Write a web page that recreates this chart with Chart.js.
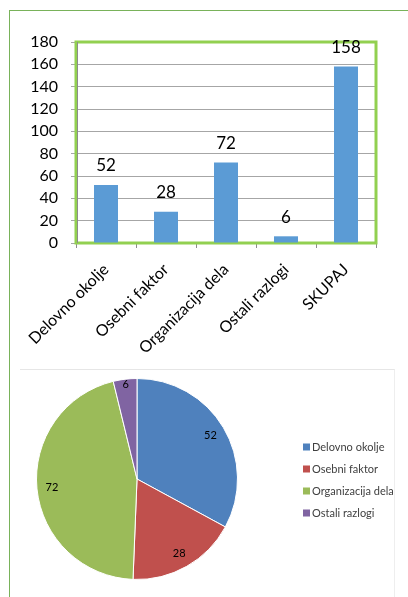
<!DOCTYPE html>
<html>
<head>
<meta charset="utf-8">
<script src="https://cdn.jsdelivr.net/npm/chart.js@4.4.1/dist/chart.umd.min.js"></script>
<style>
  html, body { margin: 0; padding: 0; background: #fff; }
  body { width: 408px; height: 597px; position: relative; overflow: hidden; }
  #outer { position: absolute; left: 9px; top: 10px; width: 420px; height: 600px;
           border-left: 1px solid #79b25a; border-top: 1px solid #79b25a; }
  #pieFrame { position: absolute; left: 20px; top: 369px; width: 374px; height: 240px;
              border-top: 1px solid #e6e6e6; border-right: 1px solid #eeeeee; }
  #barWrap { position: absolute; left: 0; top: 0; width: 408px; height: 370px; }
  #pieWrap { position: absolute; left: 20px; top: 368px; width: 388px; height: 229px; }
</style>
</head>
<body>
<div id="outer"></div>
<div id="pieFrame"></div>
<div id="barWrap"><canvas id="barChart"></canvas></div>
<div id="pieWrap"><canvas id="pieChart"></canvas></div>
<script>
// ---------------------------------------------------------------------------
// Data
// ---------------------------------------------------------------------------
const barLabels = ['Delovno okolje', 'Osebni faktor', 'Organizacija dela', 'Ostali razlogi', 'SKUPAJ'];
const barValues = [52, 28, 72, 6, 158];

const pieLabels = ['Delovno okolje', 'Osebni faktor', 'Organizacija dela', 'Ostali razlogi'];
const pieValues = [52, 28, 72, 6];
const pieColors = ['#4f81bd', '#c0504d', '#9bbb59', '#8064a2'];

const yTicks = { min: 0, max: 180, step: 20 };

Chart.defaults.font.family = "Lato, sans-serif";
Chart.defaults.color = '#000';
Chart.defaults.animation = false;

// ---------------------------------------------------------------------------
// Plugins
// ---------------------------------------------------------------------------
const plotFrame = {
  id: 'plotFrame',
  beforeDatasetsDraw(chart) {
    const { ctx, chartArea: a } = chart;
    ctx.save();
    ctx.strokeStyle = '#92d050';
    ctx.lineWidth = 3;
    ctx.strokeRect(a.left, a.top, a.right - a.left, a.bottom - a.top);
    ctx.strokeStyle = '#8c8c8c';
    ctx.lineWidth = 1;
    ctx.beginPath();
    ctx.moveTo(a.left + 1.5, a.top);
    ctx.lineTo(a.left + 1.5, a.bottom);
    ctx.stroke();
    ctx.restore();
  }
};

const barValueLabels = {
  id: 'barValueLabels',
  afterDatasetsDraw(chart) {
    const { ctx } = chart;
    const meta = chart.getDatasetMeta(0);
    ctx.save();
    ctx.font = "17px Lato, sans-serif";
    ctx.fillStyle = '#000';
    ctx.textAlign = 'center';
    ctx.textBaseline = 'middle';
    meta.data.forEach((bar, i) => {
      ctx.fillText(String(chart.data.datasets[0].data[i]), bar.x, bar.y - 19);
    });
    ctx.restore();
  }
};

const pieValueLabels = {
  id: 'pieValueLabels',
  afterDatasetsDraw(chart) {
    const { ctx } = chart;
    const meta = chart.getDatasetMeta(0);
    const values = chart.data.datasets[0].data;
    const total = values.reduce((a, b) => a + b, 0);
    ctx.save();
    ctx.font = "11px Lato, sans-serif";
    ctx.fillStyle = '#000';
    ctx.textAlign = 'center';
    ctx.textBaseline = 'middle';
    meta.data.forEach((arc, i) => {
      const mid = (arc.startAngle + arc.endAngle) / 2;
      // small slices get pushed out towards the rim
      const k = values[i] / total < 0.05 ? 0.95 : 0.85;
      const r = arc.outerRadius * k;
      ctx.fillText(String(values[i]), arc.x + Math.cos(mid) * r, arc.y + Math.sin(mid) * r);
    });
    ctx.restore();
  }
};

const sideLegend = {
  id: 'sideLegend',
  afterDraw(chart) {
    const { ctx } = chart;
    const colors = chart.data.datasets[0].backgroundColor;
    const x = 283, y0 = 79, gap = 22;
    ctx.save();
    ctx.font = "11px Lato, sans-serif";
    ctx.textAlign = 'left';
    ctx.textBaseline = 'middle';
    chart.data.labels.forEach((label, i) => {
      const y = y0 + i * gap;
      ctx.fillStyle = colors[i];
      ctx.fillRect(x, y - 3.5, 7, 7);
      ctx.fillStyle = '#404040';
      ctx.fillText(label, x + 9, y);
    });
    ctx.restore();
  }
};

// ---------------------------------------------------------------------------
// Bar chart
// ---------------------------------------------------------------------------
new Chart(document.getElementById('barChart'), {
  type: 'bar',
  data: {
    labels: barLabels,
    datasets: [{
      data: barValues,
      backgroundColor: '#5b9bd5',
      borderWidth: 0,
      barPercentage: 0.4,
      categoryPercentage: 1
    }]
  },
  options: {
    responsive: true,
    maintainAspectRatio: false,
    layout: { padding: { left: 26, right: 32, top: 42, bottom: 2 } },
    plugins: { legend: { display: false }, tooltip: { enabled: false } },
    scales: {
      x: {
        afterFit(scale) { scale.height = 125; },
        grid: {
          drawOnChartArea: false,
          drawTicks: true,
          tickLength: 5,
          color: '#8c8c8c'
        },
        border: { display: false },
        ticks: {
          autoSkip: false,
          minRotation: 45,
          maxRotation: 45,
          padding: 12,
          color: '#000',
          font: { size: 16 }
        }
      },
      y: {
        min: yTicks.min,
        max: yTicks.max,
        afterFit(scale) { scale.width = 50; },
        grid: { color: '#a6a6a6', tickLength: 5 },
        border: { display: false },
        ticks: {
          autoSkip: false,
          stepSize: yTicks.step,
          padding: 13,
          color: '#000',
          font: { size: 16 }
        }
      }
    }
  },
  plugins: [plotFrame, barValueLabels]
});

// ---------------------------------------------------------------------------
// Pie chart
// ---------------------------------------------------------------------------
new Chart(document.getElementById('pieChart'), {
  type: 'pie',
  data: {
    labels: pieLabels,
    datasets: [{
      data: pieValues,
      backgroundColor: pieColors,
      borderColor: '#ffffff',
      borderWidth: 1
    }]
  },
  options: {
    responsive: true,
    maintainAspectRatio: false,
    layout: { padding: { left: 16, right: 170, top: 10, bottom: 17 } },
    plugins: { legend: { display: false }, tooltip: { enabled: false } }
  },
  plugins: [pieValueLabels, sideLegend]
});
</script>
</body>
</html>
